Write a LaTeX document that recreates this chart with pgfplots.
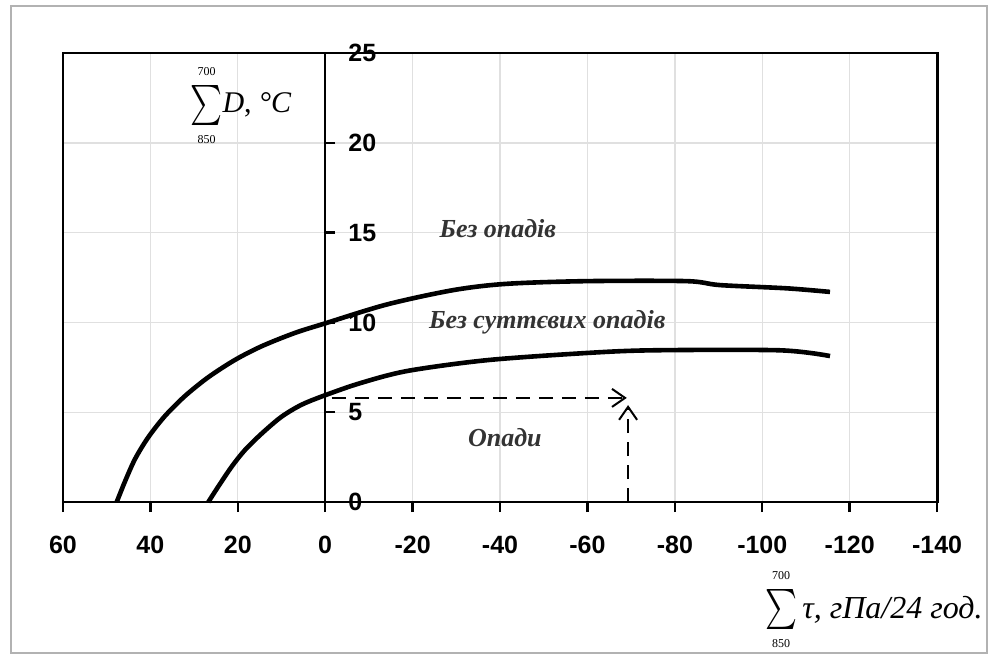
\documentclass[border=0pt]{standalone}
\usepackage{graphicx}
\usepackage{pgfplots}
\pgfplotsset{compat=1.18}
\usepackage{fontspec}
\setmainfont{Liberation Serif}
\newfontfamily\arialfont{Liberation Sans}
\usetikzlibrary{arrows.meta}
\newcommand\tickfont{\arialfont\bfseries\fontsize{12.5}{14}\selectfont}
\newcommand\sumlim[1]{\fontsize{6}{6}\selectfont #1}
\newcommand\bigsum{$\vcenter{\hbox{\shortstack{\sumlim{700}\\[2pt]\resizebox*{16pt}{20pt}{$\sum$}\\[2pt]\sumlim{850}}}}$}
\begin{document}
\begin{tikzpicture}
\begin{axis}[
  name=main,
  width=437pt, height=224.5pt, scale only axis,
  x dir=reverse, xmin=-140, xmax=60, ymin=0, ymax=25,
  xtick={-140,-120,...,60}, ytick={0,5,...,25},
  yticklabels={},
  grid=major, grid style={black!12, line width=0.7pt},
  axis line style={line width=1.4pt},
  xtick pos=left, ytick style={draw=none},
  xtick style={line width=1.2pt, black}, xtick align=outside, major tick length=5pt,
  xticklabel style={font=\tickfont, yshift=-8.5pt},
  /pgf/number format/assume math mode=true,
  clip=false,
]
% upper curve
\addplot[smooth, tension=0.5, line width=2.3pt, black] coordinates {
(47.7,0) (45.8,1.15) (43.5,2.4) (40.5,3.6) (36.7,4.78) (32.1,5.9) (26.75,6.95) (20.6,7.92) (14.5,8.68) (6.9,9.42) (0,9.95) (-14.1,11.0) (-29.3,11.8) (-41.5,12.15) (-59.8,12.3) (-82.7,12.3) (-90.3,12.08) (-105.6,11.9) (-115.5,11.7)
};
% lower curve
\addplot[smooth, tension=0.5, line width=2.3pt, black] coordinates {
(26.75,0) (24.5,0.85) (21.4,1.97) (18.35,2.9) (14.5,3.82) (10.0,4.75) (5.4,5.42) (0,5.95) (-8,6.62) (-18.8,7.3) (-37,7.9) (-59.8,8.3) (-75,8.45) (-104,8.45) (-115.5,8.13)
};
% dashed arrows
\addplot[line width=1pt, dash pattern=on 7pt off 4.5pt, -{Straight Barb[length=6.5pt,width=9pt,line width=1pt]}] coordinates {(-1.5,5.8) (-69,5.8)};
\addplot[line width=1pt, dash pattern=on 7pt off 4.5pt, -{Straight Barb[length=6.5pt,width=9pt,line width=1pt]}] coordinates {(-69.3,0) (-69.3,5.4)};
% labels
\node[font=\bfseries\itshape\fontsize{13}{15}\selectfont, text=black!80] at (axis cs:-39.5,15.2) {Без опадів};
\node[font=\bfseries\itshape\fontsize{13}{15}\selectfont, text=black!80] at (axis cs:-50.8,10.0) {Без суттєвих опадів};
\node[font=\bfseries\itshape\fontsize{13}{15}\selectfont, text=black!80] at (axis cs:-41.1,3.6) {Опади};
\node[font=\fontsize{15}{17}\selectfont, inner sep=0pt, anchor=base west] at (axis cs:30.9,21.66)
  {\bigsum\textit{D}, \textit{°C}};
\node[font=\fontsize{16}{18}\selectfont, anchor=base east, inner sep=0pt] at (axis cs:-150.5,-6.46)
  {\bigsum\,\textit{τ, гПа/24 год.}};
% outer frame
\draw[black!30, line width=1pt] (axis cs:71.9,-8.41) rectangle (axis cs:-151.4,27.6);
\path (axis cs:74.4,-8.52) rectangle (axis cs:-152.1,27.95);
\end{axis}
\begin{axis}[
  at={(main.south west)}, anchor=south west,
  width=437pt, height=224.5pt, scale only axis,
  x dir=reverse, xmin=-140, xmax=60, ymin=0, ymax=25,
  axis x line=none, axis y line=center,
  y axis line style={-, line width=1.2pt},
  ytick={0,5,...,25},
  ytick style={line width=1.2pt, black, xshift=2.5pt}, major tick length=5pt,
  yticklabel style={font=\tickfont, anchor=west, xshift=10.6pt},
  /pgf/number format/assume math mode=true,
  clip=false,
]
\end{axis}
\end{tikzpicture}
\end{document}
